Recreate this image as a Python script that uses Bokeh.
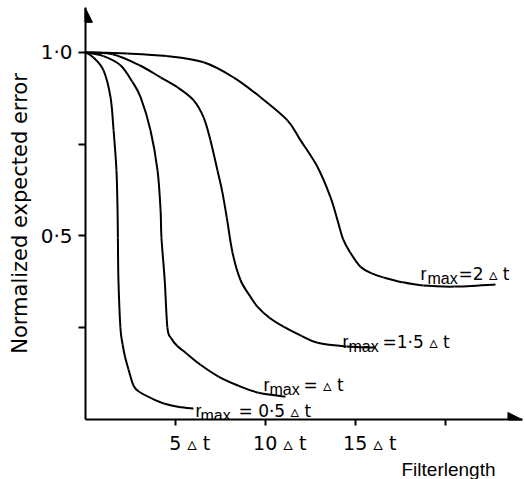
import numpy as np
from bokeh.plotting import figure
from bokeh.models import FixedTicker, Range1d, Arrow, NormalHead, Title
from bokeh.embed import file_html
from bokeh.resources import INLINE
from bokeh.core.properties import value

AX_FONT = "DejaVu Sans"
LB_FONT = "Liberation Sans"

# ---- data: normalized expected error vs filter length (units of delta t)
c05_x = [0, 0.44, 1.0, 1.39, 1.56, 1.72, 1.78, 1.80, 1.83, 1.94, 2.06, 2.2, 2.39, 2.67, 3.0, 3.7, 4.4, 5.2, 6.0]
c05_y = [1.0, 0.986, 0.951, 0.878, 0.788, 0.679, 0.571, 0.495, 0.38, 0.25, 0.205, 0.17, 0.136, 0.092, 0.075, 0.057, 0.043, 0.034, 0.030]

c10_x = [0, 1.0, 1.94, 2.6, 3.06, 3.61, 4.0, 4.17, 4.22, 4.4, 4.55, 4.75, 5.1, 5.56, 6.39, 7.39, 8.5, 9.61, 11.11]
c10_y = [1.0, 0.99, 0.965, 0.92, 0.878, 0.788, 0.679, 0.571, 0.495, 0.38, 0.25, 0.222, 0.2, 0.182, 0.149, 0.117, 0.092, 0.073, 0.0625]

c15_x = [0, 1.5, 3.0, 4.17, 5.11, 6.0, 6.56, 6.94, 7.33, 7.6, 7.85, 8.17, 8.61, 9.17, 9.56, 10.2, 11.0, 12.0, 12.89, 14.5, 16.11]
c15_y = [1.0, 0.995, 0.965, 0.932, 0.905, 0.870, 0.823, 0.761, 0.679, 0.62, 0.55, 0.454, 0.380, 0.334, 0.307, 0.278, 0.253, 0.228, 0.209, 0.199, 0.196]

c20_x = [0, 2.33, 4.5, 6.56, 8.22, 9.72, 11.22, 11.94, 12.89, 13.61, 14.0, 14.33, 14.72, 15.28, 15.9, 16.56, 17.6, 18.78, 20.5, 22.78]
c20_y = [1.0, 0.997, 0.99, 0.973, 0.932, 0.878, 0.815, 0.761, 0.688, 0.606, 0.543, 0.489, 0.454, 0.416, 0.398, 0.387, 0.374, 0.365, 0.362, 0.368]

# ---- tick labels
x_ticks = [5, 10, 15]
x_minor_ticks = [20]
x_tick_labels = {5: "\u2003\u20025 \u25b5 t", 10: "\u2003\u200210 \u25b5 t", 15: "\u2003\u200215 \u25b5 t"}
y_ticks = [0.5, 1.0]
y_minor_ticks = [0.25, 0.75]
y_tick_labels = {0.5: "0\u00b75", 1.0: "1\u00b70"}

# ---- curve labels (r_max = ...)
lab_rest = ["= 0\u00b75 \u25b5 t", "= \u25b5 t", "=1\u00b75 \u25b5 t", "=2 \u25b5 t"]
lab_r_x = [6.11, 9.89, 14.28, 18.61]
lab_max_x = [6.39, 10.22, 14.61, 19.0]
lab_rest_x = [8.5, 12.11, 16.5, 20.72]
lab_base_y = [0.024, 0.095, 0.212, 0.397]
lab_sub_y = [0.012, 0.082, 0.198, 0.383]

X_END = 24.28
Y_END = 1.1223

p = figure(width=525, height=479, x_range=Range1d(0, X_END), y_range=Range1d(0, Y_END),
           output_backend="svg", toolbar_location=None,
           min_border_left=85, min_border_right=3, min_border_top=7, min_border_bottom=59)
p.outline_line_color = None
p.xgrid.visible = False
p.ygrid.visible = False
p.background_fill_color = "white"

for ax in (p.xaxis, p.yaxis):
    ax.axis_line_width = 2
    ax.axis_line_color = "black"
    ax.major_tick_line_width = 2
    ax.minor_tick_line_width = 2
    ax.major_tick_in = 0
    ax.minor_tick_in = 0
    ax.major_label_text_font = AX_FONT
    ax.major_label_text_color = "black"

p.xaxis.ticker = FixedTicker(ticks=x_ticks, minor_ticks=x_minor_ticks)
p.xaxis.major_label_overrides = x_tick_labels
p.xaxis.major_tick_out = 6
p.xaxis.minor_tick_out = 6
p.xaxis.major_label_standoff = 6
p.xaxis.major_label_text_font_size = "19px"

p.yaxis.ticker = FixedTicker(ticks=y_ticks, minor_ticks=y_minor_ticks)
p.yaxis.major_label_overrides = y_tick_labels
p.yaxis.major_tick_out = 7
p.yaxis.minor_tick_out = 7
p.yaxis.major_label_standoff = 6
p.yaxis.major_label_text_font_size = "20px"
p.yaxis.axis_label = "Normalized expected error"
p.yaxis.axis_label_text_font = AX_FONT
p.yaxis.axis_label_text_font_style = "normal"
p.yaxis.axis_label_text_font_size = "21px"
p.yaxis.axis_label_text_color = "black"
p.yaxis.axis_label_standoff = 6

# smooth curves through the read points (Catmull-Rom -> cubic Bezier, in pixel-proportional space)
SX, SY = 18.0, 368.0
def bezier_parts(xs, ys):
    P = np.column_stack([np.asarray(xs) * SX, np.asarray(ys) * SY])
    Q = np.vstack([P[:1], P, P[-1:]])
    p0, p1, p2, p3 = Q[:-3], Q[1:-2], Q[2:-1], Q[3:]
    c1 = p1 + (p2 - p0) / 6.0
    c2 = p2 - (p3 - p1) / 6.0
    return dict(x0=p1[:, 0] / SX, y0=p1[:, 1] / SY, x1=p2[:, 0] / SX, y1=p2[:, 1] / SY,
                cx0=c1[:, 0] / SX, cy0=c1[:, 1] / SY, cx1=c2[:, 0] / SX, cy1=c2[:, 1] / SY)

for cx, cy in ((c05_x, c05_y), (c10_x, c10_y), (c15_x, c15_y), (c20_x, c20_y)):
    p.bezier(line_color="black", line_width=2, **bezier_parts(cx, cy))

p.text(x=lab_r_x, y=lab_base_y, text=["r"] * 4, text_font=value(LB_FONT), text_font_size="18px",
       text_baseline="alphabetic", text_align="left", text_color="black")
p.text(x=lab_max_x, y=lab_sub_y, text=["max"] * 4, text_font=value(LB_FONT), text_font_size="16px",
       text_baseline="alphabetic", text_align="left", text_color="black")
p.text(x=lab_rest_x, y=lab_base_y, text=lab_rest, text_font=value(AX_FONT), text_font_size="17px",
       text_baseline="alphabetic", text_align="left", text_color="black")

xlabel = Title(text="Filterlength", align="right", offset=27, standoff=0,
               text_font=LB_FONT, text_font_size="19px", text_font_style="normal", text_color="black")
p.add_layout(xlabel, "below")

p.add_layout(Arrow(end=NormalHead(size=14, fill_color="black", line_color="black"),
                   x_start=0, y_start=1.08, x_end=0, y_end=1.12, line_width=2, line_color="black"))
p.add_layout(Arrow(end=NormalHead(size=14, fill_color="black", line_color="black"),
                   x_start=23.5, y_start=0, x_end=24.25, y_end=0, line_width=2, line_color="black"))

open("out.html", "w").write(file_html(p, INLINE))
